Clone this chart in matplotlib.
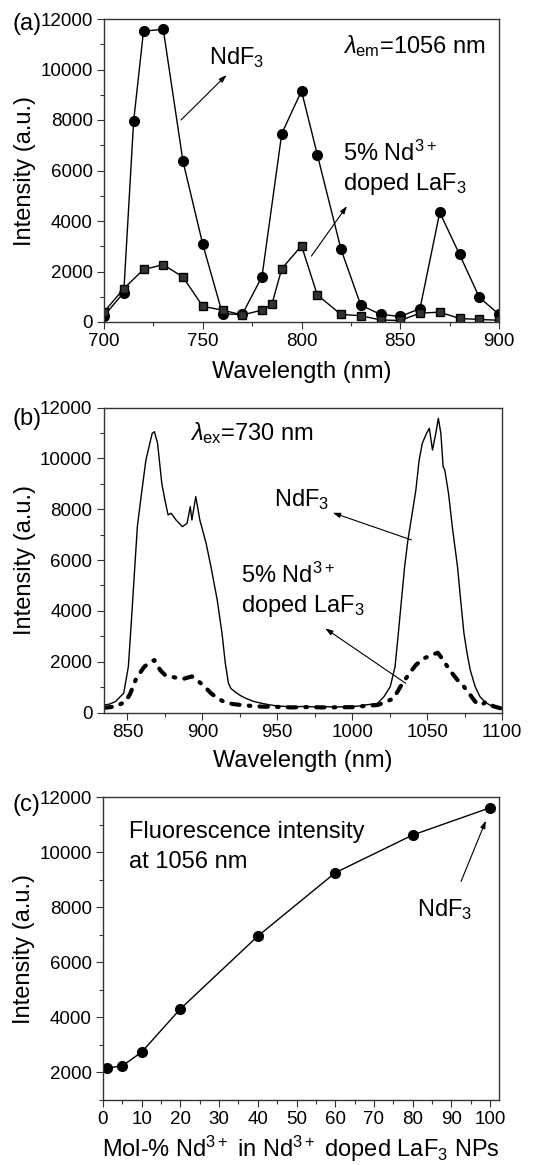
import matplotlib
matplotlib.use("Agg")
import matplotlib.pyplot as plt
from matplotlib.ticker import MultipleLocator

plt.rcParams['font.family'] = ['Liberation Sans', 'DejaVu Sans']
plt.rcParams['mathtext.fontset'] = 'custom'
plt.rcParams['mathtext.rm'] = 'Liberation Sans'
plt.rcParams['mathtext.it'] = 'Liberation Sans:italic'
plt.rcParams['mathtext.bf'] = 'Liberation Sans:bold'

# (a) excitation spectra, lambda_em = 1056 nm
wl_a_ndf3 = [700, 710, 715, 720, 730, 740, 750, 760, 770, 780, 790, 800, 808,
             820, 830, 840, 850, 860, 870, 880, 890, 900]
int_a_ndf3 = [250, 1160, 7950, 11520, 11590, 6360, 3080, 320, 300, 1800, 7460,
              9150, 6630, 2880, 670, 300, 220, 530, 4340, 2680, 980, 300]
wl_a_doped = [700, 710, 720, 730, 740, 750, 760, 770, 780, 785, 790, 800, 808,
              820, 830, 840, 850, 860, 870, 880, 890, 900]
int_a_doped = [400, 1320, 2080, 2270, 1780, 620, 470, 280, 470, 700, 2110, 3020,
               1070, 300, 250, 80, 60, 350, 390, 140, 100, 70]

# (b) emission spectra, lambda_ex = 730 nm
wl_b_ndf3 = [834, 838, 842, 847.5, 850.6, 852.8, 854.9, 856.6, 859.1, 862.3,
             864.4, 866.5, 868.0, 870.1, 872.9, 875.0, 877.1, 879.2, 882.4, 886.7,
             889.8, 891.9, 893.0, 895.6, 898.3, 902.5, 905.7, 909.9, 913.1, 915.3,
             917.4, 919, 921.6, 925, 929, 934, 939.6, 945, 950, 956, 962, 968,
             975, 982, 990, 997, 1004, 1008.3, 1012, 1016.9, 1021.2, 1025.4,
             1028.6, 1030.8, 1032.9, 1035, 1037.2, 1040.4, 1042.5, 1044.7, 1046.8,
             1049.6, 1051.5, 1053.6, 1055.8, 1057.5, 1059.2, 1060.7, 1061.8,
             1064.3, 1067.1, 1070.3, 1072.4, 1074.6, 1076.7, 1078.8, 1082.1,
             1085.3, 1088.5, 1091.7, 1095, 1100]
int_b_ndf3 = [290, 330, 432, 760, 1809, 3775, 5740, 7313, 8493, 9934, 10459,
              10983, 11048, 10590, 9017, 8362, 7772, 7837, 7575, 7313, 7444, 8100,
              7575, 8493, 7575, 6658, 5740, 4430, 3119, 1940, 1153, 950, 820, 680,
              557, 440, 361, 300, 256, 235, 225, 240, 220, 230, 215, 235, 250, 295,
              320, 360, 623, 1016, 1803, 3115, 4426, 5738, 6787, 7967, 8754, 9934,
              10590, 10984, 11180, 10328, 10984, 11574, 10984, 9672, 9541, 8623,
              7180, 5738, 4426, 3115, 2328, 1672, 1016, 623, 426, 295, 230, 180]
wl_b_doped = [834, 842, 848.5, 851.7, 855.9, 861.2, 865.5, 868, 871.8, 875,
              879.2, 883.5, 887.7, 893, 896.2, 901.5, 905.7, 910, 915.3, 920.6,
              925.8, 933.3, 940, 950, 960, 970, 980, 990, 1000, 1008.3, 1016.9,
              1022, 1027.6, 1032.9, 1038.2, 1042.5, 1047.9, 1053.2, 1057.1, 1060.7,
              1065, 1070.3, 1074.6, 1078.8, 1082.1, 1086.3, 1089.5, 1094, 1100]
int_b_doped = [180, 236, 420, 720, 1350, 1800, 2000, 2060, 1670, 1480, 1415,
               1350, 1330, 1420, 1290, 1020, 760, 563, 393, 330, 295, 256, 230,
               220, 200, 215, 200, 205, 210, 256, 295, 400, 557, 1082, 1541, 1869,
               2131, 2262, 2354, 2066, 1672, 1279, 1016, 689, 426, 295, 426, 250, 150]

# (c) intensity at 1056 nm vs Nd content
mol_pct = [1, 5, 10, 20, 40, 60, 80, 100]
int_c = [2160, 2240, 2740, 4310, 6950, 9250, 10620, 11610]

W, H = 544, 1165
fig = plt.figure(figsize=(W / 100, H / 100), dpi=100)


def box(l, r, t, b):
    return [l / W, 1 - b / H, (r - l) / W, (b - t) / H]


ax1 = fig.add_axes(box(104, 499, 19, 322))
ax2 = fig.add_axes(box(103.5, 502, 407.5, 712.5))
ax3 = fig.add_axes(box(103, 499, 797, 1100))

arrow = dict(arrowstyle='-|>,head_length=0.45,head_width=0.15', color='k',
             lw=0.8, shrinkA=0, shrinkB=0)
fs_lab = 17
fs_tick = 13.5

for ax in (ax1, ax2, ax3):
    for s in ax.spines.values():
        s.set_color('#333333')
        s.set_linewidth(1.0)
    ax.tick_params(which='both', direction='out', top=False, right=False,
                   labelsize=fs_tick, color='#333333', width=0.8)
    ax.tick_params(which='major', length=5, pad=3)
    ax.tick_params(which='minor', length=3)
    ax.set_ylabel('Intensity (a.u.)', fontsize=fs_lab, labelpad=3)

# panel (a)
ax1.plot(wl_a_ndf3, int_a_ndf3, '-o', color='k', lw=1, ms=7)
ax1.plot(wl_a_doped, int_a_doped, '-s', color='k', mfc='#333333', lw=1, ms=6)
ax1.set_xlim(700, 900)
ax1.set_ylim(0, 12000)
ax1.xaxis.set_major_locator(MultipleLocator(50))
ax1.xaxis.set_minor_locator(MultipleLocator(25))
ax1.yaxis.set_major_locator(MultipleLocator(2000))
ax1.yaxis.set_minor_locator(MultipleLocator(1000))
ax1.set_xlabel('Wavelength (nm)', fontsize=fs_lab, labelpad=8)
ax1.text(753, 10200, 'NdF$_3$', fontsize=fs_lab)
ax1.annotate('', xy=(762, 9780), xytext=(739, 8000), arrowprops=arrow)
ax1.text(821, 10640, r'$\lambda_{\mathrm{em}}$=1056 nm', fontsize=fs_lab)
ax1.text(821, 6380, '5% Nd$^{3+}$', fontsize=fs_lab)
ax1.text(821, 5230, 'doped LaF$_3$', fontsize=fs_lab)
ax1.annotate('', xy=(823, 4590), xytext=(805, 2610), arrowprops=arrow)

# panel (b)
ax2.plot(wl_b_ndf3, int_b_ndf3, '-', color='k', lw=1)
ax2.plot(wl_b_doped, int_b_doped, color='k', lw=3,
         linestyle=(0, (2.0, 2.2, 0.4, 2.2)), dash_capstyle='round')
ax2.set_xlim(834, 1100)
ax2.set_ylim(0, 12000)
ax2.xaxis.set_major_locator(MultipleLocator(50))
ax2.xaxis.set_minor_locator(MultipleLocator(25))
ax2.yaxis.set_major_locator(MultipleLocator(2000))
ax2.yaxis.set_minor_locator(MultipleLocator(1000))
ax2.set_xlabel('Wavelength (nm)', fontsize=fs_lab, labelpad=7)
ax2.text(892, 10720, r'$\lambda_{\mathrm{ex}}$=730 nm', fontsize=fs_lab)
ax2.text(948, 8140, 'NdF$_3$', fontsize=fs_lab)
ax2.annotate('', xy=(987, 7860), xytext=(1039.5, 6790), arrowprops=arrow)
ax2.text(925.5, 5080, '5% Nd$^{3+}$', fontsize=fs_lab)
ax2.text(925.5, 3970, 'doped LaF$_3$', fontsize=fs_lab)
ax2.annotate('', xy=(982, 3310), xytext=(1035.7, 1150), arrowprops=arrow)

# panel (c)
ax3.plot(mol_pct, int_c, '-o', color='k', lw=1, ms=7)
ax3.set_xlim(0, 102.3)
ax3.set_ylim(1000, 12000)
ax3.xaxis.set_major_locator(MultipleLocator(10))
ax3.xaxis.set_minor_locator(MultipleLocator(5))
ax3.yaxis.set_major_locator(MultipleLocator(2000))
ax3.yaxis.set_minor_locator(MultipleLocator(1000))
ax3.set_xlabel('Mol-% Nd$^{3+}$ in Nd$^{3+}$ doped LaF$_3$ NPs',
               fontsize=fs_lab, labelpad=4)
ax3.text(6.6, 10510, 'Fluorescence intensity', fontsize=fs_lab)
ax3.text(6.6, 9420, 'at 1056 nm', fontsize=fs_lab)
ax3.text(81, 7660, 'NdF$_3$', fontsize=fs_lab)
ax3.annotate('', xy=(98.9, 11140), xytext=(92.5, 8935), arrowprops=arrow)

fig.text(12 / W, 1 - 24 / H, '(a)', fontsize=fs_lab, va='center')
fig.text(13 / W, 1 - 419 / H, '(b)', fontsize=fs_lab, va='center')
fig.text(12 / W, 1 - 805 / H, '(c)', fontsize=fs_lab, va='center')

fig.savefig('out.png', dpi=100)
